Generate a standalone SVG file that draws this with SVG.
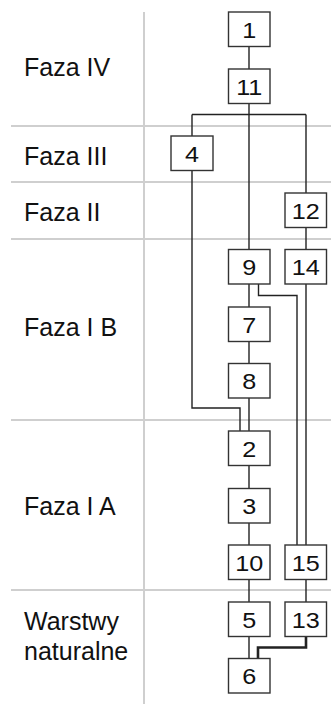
<svg xmlns="http://www.w3.org/2000/svg" width="331" height="704" viewBox="0 0 331 704">
<style>
.grid{stroke:#cfcfcf;stroke-width:2;fill:none}
.lbl{font-family:"Liberation Sans",Arial,sans-serif;font-size:25px;fill:#111}
.box rect{fill:#fff;stroke:#333;stroke-width:1.4}
.box text{font-family:"Liberation Sans",Arial,sans-serif;font-size:22.5px;fill:#111;text-anchor:middle}
.conn path{stroke:#222;stroke-width:1.4;fill:none}
.conn path.bold{stroke-width:2.6}
</style>
<rect width="331" height="704" fill="#fff"/>
<g id="grid">
<path class="grid" d="M144 12V704"/>
<path class="grid" d="M11 126H331M11 182H331M11 239H331M11 420H331M11 590H331"/>
</g>
<g id="labels">
<text class="lbl" x="24" y="76">Faza IV</text>
<text class="lbl" x="24" y="165">Faza III</text>
<text class="lbl" x="24" y="221">Faza II</text>
<text class="lbl" x="24" y="336">Faza I B</text>
<text class="lbl" x="24" y="515">Faza I A</text>
<text class="lbl" x="24" y="630">Warstwy</text>
<text class="lbl" x="24" y="660">naturalne</text>
</g>
<g id="connectors" class="conn">
<path d="M249 46V69"/>
<path d="M249 104V249.5"/>
<path d="M192 114.5H306"/>
<path d="M192 114.5V136"/>
<path d="M306 114.5V193"/>
<path d="M306 227.5V249.5"/>
<path d="M306 284V545"/>
<path d="M249 284V307"/>
<path d="M258.5 284V295.5H297V545"/>
<path d="M249 341.5V363.5"/>
<path d="M249 398V431"/>
<path d="M192 170.5V408H240V431"/>
<path d="M249 465.5V488.5"/>
<path d="M249 522V545"/>
<path d="M249 579.5V602"/>
<path d="M306 579.5V602"/>
<path d="M249 636.5V658.5"/>
<path class="bold" d="M306 636.5V647.5H258V658.5"/>
</g>
<g id="n1" class="box"><rect x="228.5" y="12" width="41.5" height="34.5"/><text transform="translate(249.2 37.7) scale(1.12 1)">1</text></g>
<g id="n11" class="box"><rect x="228.5" y="69" width="41.5" height="34.5"/><text transform="translate(249.2 94.7) scale(1.12 1)">11</text></g>
<g id="n4" class="box"><rect x="171" y="136" width="42" height="34.5"/><text transform="translate(192 161.7) scale(1.12 1)">4</text></g>
<g id="n12" class="box"><rect x="285" y="193" width="41.5" height="34.5"/><text transform="translate(305.7 218.7) scale(1.12 1)">12</text></g>
<g id="n9" class="box"><rect x="228.5" y="249.5" width="41.5" height="34.5"/><text transform="translate(249.2 275.2) scale(1.12 1)">9</text></g>
<g id="n14" class="box"><rect x="285" y="249.5" width="41.5" height="34.5"/><text transform="translate(305.7 275.2) scale(1.12 1)">14</text></g>
<g id="n7" class="box"><rect x="228.5" y="307" width="41.5" height="34.5"/><text transform="translate(249.2 332.7) scale(1.12 1)">7</text></g>
<g id="n8" class="box"><rect x="228.5" y="363.5" width="41.5" height="34.5"/><text transform="translate(249.2 389.2) scale(1.12 1)">8</text></g>
<g id="n2" class="box"><rect x="228.5" y="431" width="41.5" height="34.5"/><text transform="translate(249.2 456.7) scale(1.12 1)">2</text></g>
<g id="n3" class="box"><rect x="228.5" y="488.5" width="41.5" height="34.5"/><text transform="translate(249.2 514.2) scale(1.12 1)">3</text></g>
<g id="n10" class="box"><rect x="228.5" y="545" width="41.5" height="34.5"/><text transform="translate(249.2 570.7) scale(1.12 1)">10</text></g>
<g id="n15" class="box"><rect x="285" y="545" width="41.5" height="34.5"/><text transform="translate(305.7 570.7) scale(1.12 1)">15</text></g>
<g id="n5" class="box"><rect x="228.5" y="602" width="41.5" height="34.5"/><text transform="translate(249.2 627.7) scale(1.12 1)">5</text></g>
<g id="n13" class="box"><rect x="285" y="602" width="41.5" height="34.5"/><text transform="translate(305.7 627.7) scale(1.12 1)">13</text></g>
<g id="n6" class="box"><rect x="228.5" y="658.5" width="41.5" height="34.5"/><text transform="translate(249.2 684.2) scale(1.12 1)">6</text></g>
</svg>
